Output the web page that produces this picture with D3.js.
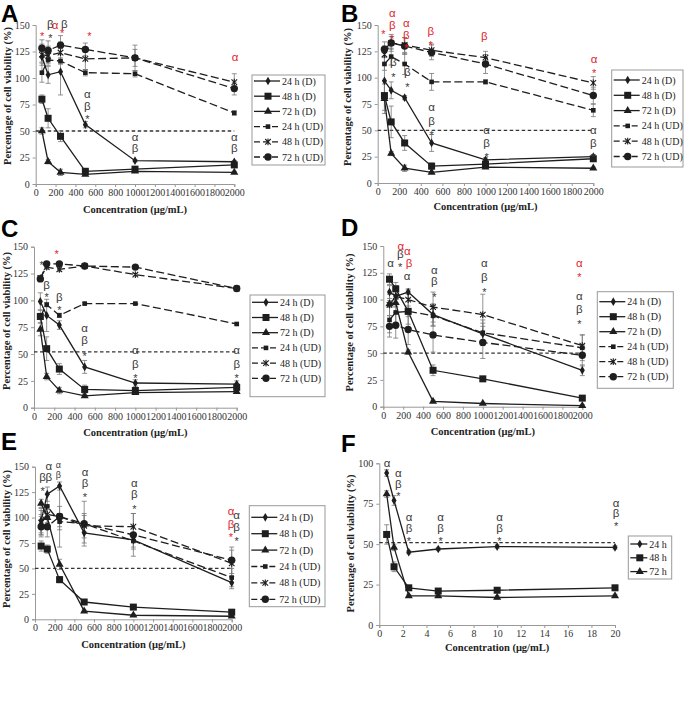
<!DOCTYPE html>
<html><head><meta charset="utf-8">
<script src="https://cdn.jsdelivr.net/npm/d3@7"></script>
<style>body{margin:0;background:#fff}svg{display:block}</style>
</head><body>
<svg id="c" width="685" height="705"></svg>
<script>
// ---------------- DATA ----------------
const conc = [62.5, 125, 250, 500, 1000, 2000];
const concF = [0.625, 1.25, 2.5, 5, 10, 20];
const seriesLabels = ["24 h (D)", "48 h (D)", "72 h (D)", "24 h (UD)", "48 h (UD)", "72 h (UD)"];
const seriesLabelsF = ["24 h", "48 h", "72 h"];
const xTickValues = [0, 200, 400, 600, 800, 1000, 1200, 1400, 1600, 1800, 2000];
const yTickValues = [0, 25, 50, 75, 100, 125, 150];
const xTickValuesF = [0, 2, 4, 6, 8, 10, 12, 14, 16, 18, 20];
const yTickValuesF = [0, 25, 50, 75, 100];
const panelLetters = ["A", "B", "C", "D", "E", "F"];
const xTitle = "Concentration (μg/mL)";
const yTitle = "Percentage of cell viability (%)";

const valuesA = [
  [120, 103, 106, 56, 22, 21],
  [80, 62, 45, 12, 14, 18],
  [50, 21, 11, 9, 12, 11],
  [105, 117, 116, 105, 104, 67],
  [122, 121, 124, 118, 119, 96],
  [128, 126, 131, 127, 119, 90]];
const errorsA = [
  [5, 8, 22, 3, 1, 1],
  [4, 9, 5, 2, 2, 2],
  [3, 2, 3, 1, 1, 1],
  [9, 3, 3, 3, 3, 2],
  [10, 9, 10, 10, 8, 8],
  [8, 9, 9, 6, 12, 6]];
const notesA = [
  [66, 143.5, "*", "r"], [148, 151, "β", "k"], [148, 141, "*", "k"], [196, 150, "α", "r"],
  [288, 151, "β", "k"], [266, 146, "*", "r"], [540, 143, "*", "r"], [2007, 119.5, "α", "r"],
  [520, 85, "α", "k"], [520, 74, "β", "k"], [520, 65, "*", "k"],
  [1000, 44.6, "α", "k"], [1000, 34, "β", "k"], [2000, 44.6, "α", "k"], [2000, 34, "β", "k"]];

const valuesB = [
  [97, 88, 81, 38, 22, 25],
  [83, 58, 38, 16, 18, 23],
  [80, 28, 14, 10, 15, 14],
  [113, 120, 113, 96, 96, 69],
  [122, 133, 131, 126, 119, 95],
  [127, 133, 130, 124, 113, 83]];
const errorsB = [
  [15, 8, 2, 8, 2, 2],
  [14, 15, 7, 3, 3, 2],
  [14, 2, 3, 1, 1, 1],
  [6, 8, 10, 8, 2, 6],
  [8, 6, 7, 6, 6, 6],
  [7, 8, 8, 7, 9, 8]];
const notesB = [
  [52, 145, "*", "r"], [135, 161, "α", "r"], [135, 150, "β", "r"], [135, 140, "*", "r"],
  [265, 151.6, "α", "r"], [265, 140.4, "β", "r"], [265, 132, "*", "r"],
  [492, 144.6, "β", "r"], [492, 135, "*", "r"], [989, 139.5, "β", "r"],
  [2007, 117.4, "α", "r"], [2007, 108, "*", "r"],
  [145, 114.6, "β", "k"], [145, 104, "*", "k"], [275, 105, "β", "k"], [275, 94.6, "*", "k"],
  [500, 71.8, "α", "k"], [500, 59, "β", "k"], [500, 49.4, "*", "k"],
  [1010, 50.3, "α", "k"], [1010, 38.3, "β", "k"], [1010, 28.2, "*", "k"],
  [2000, 50.3, "α", "k"], [2000, 38.3, "β", "k"], [2000, 28.2, "*", "k"]];

const valuesC = [
  [99, 86, 77, 38, 23, 22],
  [85, 55, 36, 17, 16, 19],
  [73, 29, 16, 11, 14, 15],
  [85, 96, 86, 97, 97, 78],
  [121, 131, 129, 132, 124, 111],
  [120, 134, 134, 132, 131, 111]];
const errorsC = [
  [8, 15, 4, 6, 3, 3],
  [6, 11, 5, 4, 3, 3],
  [6, 3, 3, 1, 1, 1],
  [2, 2, 2, 1, 1, 1],
  [2, 2, 2, 2, 1, 1],
  [2, 1, 1, 1, 1, 1]];
const notesC = [
  [76, 137, "*", "k"], [224, 147, "*", "r"], [125, 114, "β", "k"], [125, 107, "*", "k"],
  [250, 103, "β", "k"], [250, 95, "*", "k"],
  [500, 74, "α", "k"], [500, 63, "β", "k"], [500, 52, "*", "k"],
  [1000, 53.5, "α", "k"], [1000, 41, "β", "k"], [1000, 31, "*", "k"],
  [2000, 53.5, "α", "k"], [2000, 41, "β", "k"], [2000, 31, "*", "k"]];

const valuesD = [
  [107, 103, 107, 86, 68, 34],
  [119, 110, 89, 34, 26, 8],
  [96, 97, 51, 5, 3, 1],
  [81, 88, 89, 85, 69, 55],
  [95, 103, 100, 93, 86, 57],
  [75, 76, 72, 67, 60, 48]];
const errorsD = [
  [6, 6, 2, 10, 10, 5],
  [5, 6, 5, 5, 2, 1],
  [3, 3, 2, 1, 1, 1],
  [12, 12, 12, 10, 12, 12],
  [10, 10, 10, 14, 19, 10],
  [10, 12, 14, 16, 15, 10]];
const notesD = [
  [74, 134, "α", "k"], [175, 150, "α", "r"], [242, 145.6, "α", "r"], [172, 142.5, "β", "k"],
  [170, 134, "*", "k"], [260, 134, "β", "r"], [240, 122, "α", "k"],
  [513, 128, "α", "k"], [513, 117, "β", "k"], [513, 106, "*", "k"],
  [1015, 134, "α", "k"], [1015, 121, "β", "k"], [1015, 111, "*", "k"],
  [1970, 134, "α", "r"], [1970, 124.5, "*", "r"],
  [1970, 103, "α", "k"], [1970, 91, "β", "k"], [1970, 81, "*", "k"]];

const valuesE = [
  [97, 123, 131, 85, 78, 36],
  [72, 69, 39, 17, 12, 7],
  [114, 100, 54, 8, 4, 3],
  [93, 111, 96, 94, 77, 41],
  [95, 103, 101, 92, 91, 55],
  [91, 91, 101, 94, 83, 58]];
const errorsE = [
  [12, 7, 4, 10, 7, 6],
  [5, 4, 3, 2, 1, 1],
  [4, 8, 5, 1, 1, 1],
  [10, 12, 8, 8, 8, 9],
  [12, 8, 10, 12, 13, 13],
  [10, 10, 30, 22, 21, 13]];
const notesE = [
  [78, 140, "β", "k"], [78, 130, "*", "k"], [140, 150.7, "α", "k"], [140, 140, "β", "k"],
  [237, 151.7, "α", "ks"], [237, 142, "β", "ks"],
  [508, 145, "α", "k"], [508, 134, "β", "k"], [508, 124, "*", "k"],
  [1010, 134, "α", "k"], [1010, 123, "β", "k"], [1010, 112, "*", "k"],
  [1993, 106, "α", "r"], [2050, 102.5, "α", "k"], [1993, 94, "β", "r"], [2050, 91, "β", "k"],
  [1993, 84.5, "*", "r"], [2050, 80.6, "*", "k"]];

const valuesF = [
  [94, 77, 45, 47, 48.5, 48],
  [56, 36, 23, 21, 21.5, 23],
  [81, 48, 18, 18, 17, 18]];
const errorsF = [
  [2, 3, 1, 1, 1, 1],
  [6, 3, 1, 1, 1, 1],
  [2, 2, 1, 1, 1, 1]];
const notesF = [
  [0.65, 100, "α", "k"],
  [1.61, 93.8, "α", "k"], [1.61, 87.3, "β", "k"], [1.61, 82, "*", "k"],
  [2.52, 66.6, "α", "k"], [2.52, 59.8, "β", "k"], [2.52, 54.3, "*", "k"],
  [5.2, 66.6, "α", "k"], [5.2, 59.8, "β", "k"], [5.2, 54.3, "*", "k"],
  [10.2, 66.6, "α", "k"], [10.2, 59.8, "β", "k"], [10.2, 54.3, "*", "k"],
  [20.1, 75.6, "α", "k"], [20.1, 69, "β", "k"], [20.1, 63.5, "*", "k"]];

const refLevels = [50, 50, 52, 50, 50, 51];

// ---------------- LAYOUT ----------------
const layouts = [
  {x0: 35.7, x1: 234.3, yt: 25, yb: 184, lx: 252, ly: 75, lw: 73, lh: 90, r0: 81, rs: 15.2, letter: [1, 22], xtY: 209, ytX: 7, ytY: 96},
  {x0: 377.7, x1: 593.3, yt: 25, yb: 183, lx: 611.7, ly: 70, lw: 71.3, lh: 97, r0: 80, rs: 15.3, letter: [341, 22], xtY: 206, ytX: 347.3, ytY: 97},
  {x0: 34, x1: 236.7, yt: 246.7, yb: 407.7, lx: 250, ly: 295, lw: 75, lh: 101.7, r0: 302.3, rs: 15.2, letter: [1, 237], xtY: 432.5, ytX: 6, ytY: 321},
  {x0: 383.3, x1: 582.3, yt: 246, yb: 406.7, lx: 597.3, ly: 291.7, lw: 76, lh: 96.6, r0: 301.7, rs: 15, letter: [341, 236], xtY: 431.7, ytX: 349.3, ytY: 322.5},
  {x0: 35, x1: 231.7, yt: 466.7, yb: 619.3, lx: 249.3, ly: 505.7, lw: 75.7, lh: 101, r0: 517.3, rs: 16.4, letter: [1, 450], xtY: 644, ytX: 6, ytY: 539},
  {x0: 379.3, x1: 615, yt: 463.3, yb: 625, lx: 628.3, ly: 536, lw: 43.4, lh: 43, r0: 544, rs: 13.8, letter: [341, 452], xtY: 647.3, ytX: 350, ytY: 543.5}
];

const panels = [
  {values: valuesA, errors: errorsA, notes: notesA, xs: conc, labels: seriesLabels, xt: xTickValues, yt: yTickValues, xmax: 2000, ymax: 150},
  {values: valuesB, errors: errorsB, notes: notesB, xs: conc, labels: seriesLabels, xt: xTickValues, yt: yTickValues, xmax: 2000, ymax: 150},
  {values: valuesC, errors: errorsC, notes: notesC, xs: conc, labels: seriesLabels, xt: xTickValues, yt: yTickValues, xmax: 2000, ymax: 150},
  {values: valuesD, errors: errorsD, notes: notesD, xs: conc, labels: seriesLabels, xt: xTickValues, yt: yTickValues, xmax: 2000, ymax: 150},
  {values: valuesE, errors: errorsE, notes: notesE, xs: conc, labels: seriesLabels, xt: xTickValues, yt: yTickValues, xmax: 2000, ymax: 150},
  {values: valuesF, errors: errorsF, notes: notesF, xs: concF, labels: seriesLabelsF, xt: xTickValuesF, yt: yTickValuesF, xmax: 20, ymax: 100}
];

const serif = "'Liberation Serif', 'Times New Roman', 'DejaVu Serif', serif";
const sans = "'Liberation Sans', Arial, sans-serif";
const RED = "#e2242b", INK = "#1e1e1e", NOTE = "#3a3a3a";
const markerTypes = ["diamond", "square", "triangle", "smallSquare", "star", "circle"];

const svg = d3.select("#c");

function drawMarker(g, type, cx, cy) {
  const m = g.append("g").attr("transform", `translate(${cx},${cy})`);
  if (type === "diamond") m.append("path").attr("d", d3.symbol(d3.symbolDiamond, 22)()).attr("fill", INK);
  else if (type === "square") m.append("rect").attr("x", -3.5).attr("y", -3.5).attr("width", 7).attr("height", 7).attr("fill", INK);
  else if (type === "triangle") m.append("path").attr("d", d3.symbol(d3.symbolTriangle, 28)()).attr("fill", INK);
  else if (type === "smallSquare") m.append("rect").attr("x", -2.3).attr("y", -2.3).attr("width", 4.6).attr("height", 4.6).attr("fill", INK);
  else if (type === "star") {
    m.append("path").attr("d", "M-2.8,-2.8L2.8,2.8M-2.8,2.8L2.8,-2.8M0,-3.4L0,3.4").attr("stroke", INK).attr("stroke-width", 1.1).attr("fill", "none");
  } else if (type === "circle") m.append("circle").attr("r", 3.7).attr("fill", INK);
}

panels.forEach((p, i) => {
  const L = layouts[i];
  const g = svg.append("g");
  const x = d3.scaleLinear().domain([0, p.xmax]).range([L.x0, L.x1]);
  const y = d3.scaleLinear().domain([0, p.ymax]).range([L.yb, L.yt]);

  // axes
  const xa = g.append("g").attr("transform", `translate(0,${L.yb})`)
    .call(d3.axisBottom(x).tickValues(p.xt).tickSize(3).tickPadding(2).tickFormat(d3.format("d")));
  const ya = g.append("g").attr("transform", `translate(${L.x0},0)`)
    .call(d3.axisLeft(y).tickValues(p.yt).tickSize(3).tickPadding(3).tickFormat(d3.format("d")));
  [xa, ya].forEach(a => {
    a.attr("font-family", null).attr("font-size", null);
    a.select(".domain").attr("stroke", "#999").attr("stroke-width", 1);
    a.selectAll(".tick line").attr("stroke", "#999");
    a.selectAll("text").style("font-family", serif).style("font-size", "10px").attr("fill", "#333");
  });

  // 50% reference
  g.append("line").attr("x1", x(0)).attr("x2", x(p.xmax)).attr("y1", y(refLevels[i])).attr("y2", y(refLevels[i]))
    .attr("stroke", "#333").attr("stroke-width", 1.3).attr("stroke-dasharray", "3.5,2.5");

  const nSeries = p.values.length;
  // error bars
  p.values.forEach((vals, s) => {
    vals.forEach((v, k) => {
      const e = p.errors[s][k];
      const cx = x(p.xs[k]);
      g.append("line").attr("x1", cx).attr("x2", cx).attr("y1", y(v - e)).attr("y2", y(v + e)).attr("stroke", "#777").attr("stroke-width", 0.8);
      [v - e, v + e].forEach(t => g.append("line").attr("x1", cx - 2.5).attr("x2", cx + 2.5).attr("y1", y(t)).attr("y2", y(t)).attr("stroke", "#777").attr("stroke-width", 0.8));
    });
  });
  // lines + markers
  const line = d3.line().x((d, k) => x(p.xs[k])).y(d => y(d));
  p.values.forEach((vals, s) => {
    const dashed = s >= 3;
    g.append("path").attr("d", line(vals)).attr("fill", "none").attr("stroke", INK).attr("stroke-width", 1.3)
      .attr("stroke-dasharray", dashed ? "8,3.5" : null);
    vals.forEach((v, k) => drawMarker(g, markerTypes[s], x(p.xs[k]), y(v)));
  });

  // annotations
  p.notes.forEach(n => {
    const isStar = n[2] === "*";
    g.append("text").attr("x", x(n[0])).attr("y", y(n[1]))
      .attr("dy", isStar ? "0.72em" : "0.35em")
      .attr("text-anchor", "middle")
      .style("font-family", sans)
      .style("font-size", (n[3] === "ks" ? 9 : (isStar ? 11 : 11.5)) + "px")
      .attr("fill", n[3] === "r" ? RED : NOTE)
      .text(n[2]);
  });

  // legend
  g.append("rect").attr("x", L.lx).attr("y", L.ly).attr("width", L.lw).attr("height", L.lh)
    .attr("fill", "#fff").attr("stroke", "#999").attr("stroke-width", 1);
  const isF = nSeries === 3;
  p.labels.forEach((lab, s) => {
    const ry = L.r0 + s * L.rs;
    const lx1 = L.lx + 2, lx2 = L.lx + (isF ? 19 : 28);
    g.append("line").attr("x1", lx1).attr("x2", lx2).attr("y1", ry).attr("y2", ry)
      .attr("stroke", INK).attr("stroke-width", 1.3).attr("stroke-dasharray", s >= 3 ? "6,3" : null);
    drawMarker(g, markerTypes[s], (lx1 + lx2) / 2 + 1, ry);
    g.append("text").attr("x", lx2 + 2).attr("y", ry).attr("dy", "0.35em")
      .style("font-family", serif).style("font-size", "10px").attr("fill", "#222").text(lab);
  });

  // titles
  g.append("text").attr("x", (L.x0 + L.x1) / 2).attr("y", L.xtY).attr("dy", "0.35em")
    .attr("text-anchor", "middle").style("font-family", serif).style("font-weight", "bold").style("font-size", "10.5px").attr("fill", "#222")
    .text(xTitle);
  g.append("text").attr("transform", `translate(${L.ytX},${L.ytY}) rotate(-90)`).attr("dy", "0.35em")
    .attr("text-anchor", "middle").style("font-family", serif).style("font-weight", "bold").style("font-size", "10.5px").attr("fill", "#222")
    .text(yTitle);
  // panel letter
  g.append("text").attr("x", L.letter[0]).attr("y", L.letter[1]).style("font-family", sans).style("font-weight", "bold")
    .style("font-size", "24px").attr("fill", "#000").text(panelLetters[i]);
});
</script>
</body></html>
